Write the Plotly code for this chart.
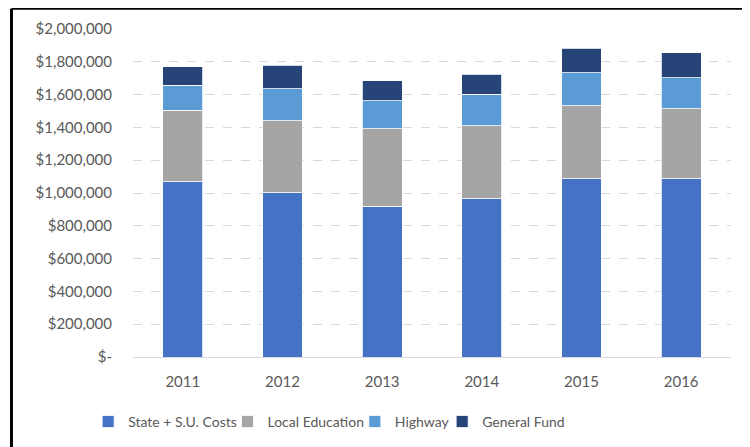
import plotly.graph_objects as go

years = ["2011", "2012", "2013", "2014", "2015", "2016"]
state_su = [1069000, 1002000, 919000, 965000, 1087000, 1087000]
local_edu = [437000, 439000, 473000, 445000, 445000, 427000]
highway = [152000, 195000, 171000, 192000, 202000, 189000]
general_fund = [112000, 144000, 122000, 122000, 150000, 153000]

y_tickvals = [0, 200000, 400000, 600000, 800000, 1000000, 1200000, 1400000, 1600000, 1800000, 2000000]
y_ticktext = ["$-", "$200,000", "$400,000", "$600,000", "$800,000", "$1,000,000",
              "$1,200,000", "$1,400,000", "$1,600,000", "$1,800,000", "$2,000,000"]

series = [
    ("State + S.U. Costs", state_su, "#4472C4"),
    ("Local Education", local_edu, "#A5A5A5"),
    ("Highway", highway, "#5B9BD5"),
    ("General Fund", general_fund, "#264478"),
]

# legend box left edges (paper x) so the swatches sit where the reference has them
legend_x = [-0.075, 0.158, 0.371, 0.517]
legend_ids = ["legend", "legend2", "legend3", "legend4"]

fig = go.Figure()
for (name, vals, color), lid in zip(series, legend_ids):
    fig.add_trace(go.Bar(
        x=years, y=vals, name=name, legend=lid, showlegend=True,
        marker=dict(color=color, line=dict(color="rgba(255,255,255,0.8)", width=1)),
    ))

font_family = "Lato, sans-serif"
legend_common = dict(orientation="h", y=-0.198, yanchor="middle", xanchor="left",
                     font=dict(size=14, color="#595959"), itemwidth=30,
                     bgcolor="rgba(0,0,0,0)")
legend_layout = {}
for lid, lx in zip(legend_ids, legend_x):
    legend_layout[lid] = dict(legend_common, x=lx)

fig.update_layout(
    showlegend=True,
    barmode="stack",
    bargap=0.6,
    width=750, height=447,
    margin=dict(l=125, r=27, t=21, b=98),
    paper_bgcolor="white",
    plot_bgcolor="white",
    font=dict(family=font_family, size=15, color="#595959"),
    xaxis=dict(showgrid=False, showline=True, linecolor="#D9D9D9", linewidth=1,
               ticks="", ticklabelstandoff=11, tickfont=dict(size=15, color="#595959")),
    yaxis=dict(range=[0, 2000000], tickvals=y_tickvals, ticktext=y_ticktext,
               showgrid=True, gridcolor="#D9D9D9", griddash="dash", gridwidth=1,
               zeroline=False, showline=False, ticks="", ticklabelstandoff=20,
               tickfont=dict(size=15, color="#595959")),
    shapes=[
        dict(type="line", xref="paper", yref="paper", x0=-0.2032, x1=-0.2032, y0=-0.35, y1=1.062,
             line=dict(color="black", width=3)),
        dict(type="line", xref="paper", yref="paper", x0=-0.2032, x1=1.06, y0=1.062, y1=1.062,
             line=dict(color="black", width=2)),
    ],
    **legend_layout,
)

fig.write_html("out.html")
